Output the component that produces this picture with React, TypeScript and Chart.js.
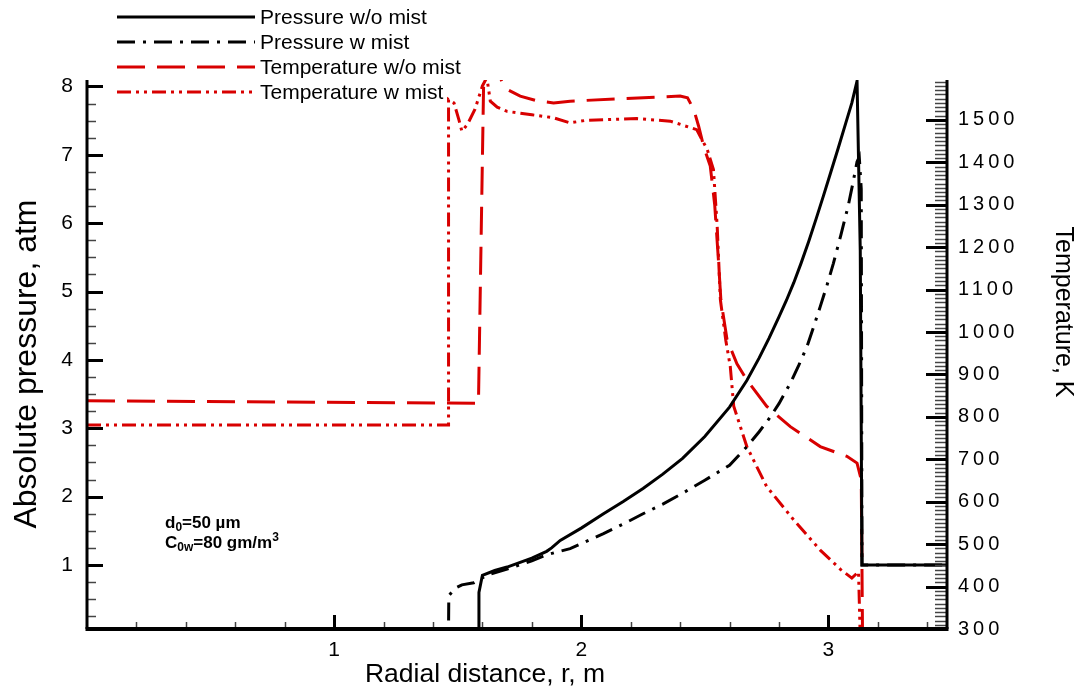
import React, { useEffect, useRef } from 'react';
import { Chart, registerables, LinearScale } from 'chart.js';

Chart.register(...registerables);

class SpacedLinearScale extends LinearScale {
  static id = 'spacedLinear';
  static defaults = (LinearScale as any).defaults;
  drawLabels(area: any) {
    const ctx: any = (this as any).ctx;
    ctx.save();
    ctx.letterSpacing = '4px';
    super.drawLabels(area);
    ctx.restore();
  }
}
Chart.register(SpacedLinearScale as any);

// ---------------- data ----------------
const seriesNames = ['Pressure w/o mist', 'Pressure w mist', 'Temperature w/o mist', 'Temperature w mist'];

const pNoMistR = [0, 1.583, 1.586, 1.6, 1.65, 1.7, 1.8, 1.86, 1.88, 1.915, 2.0, 2.09, 2.17, 2.25, 2.33, 2.41, 2.5, 2.6, 2.67, 2.72, 2.76, 2.8, 2.83, 2.86, 2.89, 2.92, 2.95, 2.98, 3.01, 3.04, 3.07, 3.095, 3.116, 3.129, 3.136, 3.48];
const pNoMistP = [0.064, 0.064, 0.6, 0.85, 0.92, 0.97, 1.1, 1.2, 1.25, 1.36, 1.54, 1.75, 1.93, 2.12, 2.33, 2.56, 2.88, 3.31, 3.7, 4.03, 4.32, 4.63, 4.87, 5.13, 5.42, 5.73, 6.06, 6.4, 6.75, 7.1, 7.46, 7.76, 8.08, 5.6, 1.0, 1.0];

const pMistR = [0, 1.463, 1.464, 1.49, 1.517, 1.565, 1.618, 1.7, 1.8, 1.86, 1.955, 2.09, 2.17, 2.25, 2.33, 2.41, 2.5, 2.6, 2.67, 2.72, 2.76, 2.8, 2.846, 2.88, 2.914, 2.94, 2.967, 2.995, 3.02, 3.05, 3.08, 3.1, 3.116, 3.125, 3.133, 3.136, 3.48];
const pMistP = [0.064, 0.064, 0.55, 0.66, 0.71, 0.74, 0.85, 0.94, 1.06, 1.15, 1.24, 1.46, 1.6, 1.75, 1.89, 2.05, 2.24, 2.46, 2.73, 2.95, 3.14, 3.36, 3.66, 3.92, 4.2, 4.48, 4.78, 5.1, 5.41, 5.82, 6.25, 6.6, 6.9, 6.97, 6.5, 1.0, 1.0];

const tNoMistR = [0, 1.57, 1.584, 1.605, 1.62, 1.65, 1.672, 1.685, 1.7, 1.753, 1.82, 1.888, 1.955, 2.158, 2.4, 2.43, 2.455, 2.475, 2.495, 2.522, 2.54, 2.555, 2.565, 2.59, 2.63, 2.67, 2.75, 2.846, 2.967, 3.075, 3.116, 3.133, 3.138, 3.48];
const tNoMistT = [838, 832, 832, 1588, 1610, 1625, 1600, 1582, 1572, 1556, 1545, 1540, 1544, 1550, 1556, 1552, 1525, 1485, 1438, 1391, 1300, 1170, 1076, 982, 925, 887, 825, 777, 730, 707, 691, 652, 300, 300];

const tMistR = [0, 1.463, 1.463, 1.485, 1.505, 1.517, 1.54, 1.57, 1.6, 1.618, 1.632, 1.66, 1.7, 1.8, 1.888, 1.955, 2.02, 2.225, 2.36, 2.467, 2.51, 2.535, 2.55, 2.563, 2.585, 2.603, 2.617, 2.67, 2.75, 2.86, 2.967, 3.05, 3.095, 3.122, 3.128, 3.48];
const tMistT = [781, 781, 1548, 1540, 1500, 1473, 1490, 1525, 1580, 1600, 1544, 1530, 1520, 1512, 1505, 1493, 1499, 1503, 1497, 1477, 1430, 1383, 1250, 1076, 980, 919, 825, 730, 636, 557, 486, 440, 420, 435, 300, 300];

const xTickValues = [1, 2, 3];
const yTickValues = [1, 2, 3, 4, 5, 6, 7, 8];
const y2TickValues = [300, 400, 500, 600, 700, 800, 900, 1000, 1100, 1200, 1300, 1400, 1500];

const FONT = '"Liberation Sans", Arial, sans-serif';

const pairs = (xs: number[], ys: number[]) => xs.map((x, i) => ({ x, y: ys[i] }));

const axesPlugin = {
  id: 'tecAxes',
  afterDatasetsDraw(chart: any) {
    const { ctx, chartArea: a, scales } = chart;
    ctx.save();
    ctx.lineCap = 'butt';
    // bottom ticks
    for (let i = 1; i <= 17; i++) {
      const v = i * 0.2;
      const px = Math.round(scales.x.getPixelForValue(v)) + 0.5;
      const major = i % 5 === 0;
      ctx.strokeStyle = major ? '#000' : '#444';
      ctx.lineWidth = major ? 3 : 1.5;
      ctx.beginPath();
      ctx.moveTo(px, a.bottom);
      ctx.lineTo(px, a.bottom - (major ? 14 : 7));
      ctx.stroke();
    }
    // left ticks
    for (let i = 1; i <= 32; i++) {
      const v = i * 0.25;
      const py = Math.round(scales.y.getPixelForValue(v)) + 0.5;
      const major = i % 4 === 0;
      ctx.strokeStyle = major ? '#000' : '#444';
      ctx.lineWidth = major ? 3 : 1.5;
      ctx.beginPath();
      ctx.moveTo(a.left, py);
      ctx.lineTo(a.left + (major ? 16 : 9), py);
      ctx.stroke();
    }
    // right ticks
    for (let v = 310; v <= 1590; v += 10) {
      const py = Math.round(scales.y2.getPixelForValue(v)) + 0.5;
      const major = v % 100 === 0;
      ctx.strokeStyle = major ? '#000' : '#444';
      ctx.lineWidth = major ? 3 : 1.5;
      ctx.beginPath();
      ctx.moveTo(a.right, py);
      ctx.lineTo(a.right - (major ? 21 : 12), py);
      ctx.stroke();
    }
    // axis lines
    ctx.strokeStyle = '#000';
    ctx.lineWidth = 3;
    ctx.beginPath();
    ctx.moveTo(a.left, a.top);
    ctx.lineTo(a.left, a.bottom);
    ctx.moveTo(a.right, a.top);
    ctx.lineTo(a.right, a.bottom);
    ctx.stroke();
    ctx.lineWidth = 4;
    ctx.beginPath();
    ctx.moveTo(a.left - 1.5, a.bottom);
    ctx.lineTo(a.right + 1.5, a.bottom);
    ctx.stroke();

    // axis titles
    ctx.fillStyle = '#000';
    ctx.textAlign = 'center';
    ctx.textBaseline = 'middle';
    ctx.font = `26.5px ${FONT}`;
    ctx.fillText('Radial distance, r, m', 485, 675);
    ctx.save();
    ctx.font = `32px ${FONT}`;
    ctx.translate(27, 364);
    ctx.rotate(-Math.PI / 2);
    ctx.fillText('Absolute pressure, atm', 0, 0);
    ctx.restore();
    ctx.save();
    ctx.font = `25px ${FONT}`;
    ctx.translate(1063, 312);
    ctx.rotate(Math.PI / 2);
    ctx.fillText('Temperature, K', 0, 0);
    ctx.restore();

    // annotation
    const bold = (s: number) => `bold ${s}px ${FONT}`;
    ctx.textAlign = 'left';
    ctx.textBaseline = 'alphabetic';
    let x = 165;
    let y = 528;
    ctx.font = bold(17);
    ctx.fillText('d', x, y); x += ctx.measureText('d').width;
    ctx.font = bold(12);
    ctx.fillText('0', x, y + 3); x += ctx.measureText('0').width;
    ctx.font = bold(17);
    ctx.fillText('=50 µm', x, y);
    x = 165; y = 548;
    ctx.fillText('C', x, y); x += ctx.measureText('C').width;
    ctx.font = bold(12);
    ctx.fillText('0w', x, y + 3); x += ctx.measureText('0w').width;
    ctx.font = bold(17);
    ctx.fillText('=80 gm/m', x, y); x += ctx.measureText('=80 gm/m').width;
    ctx.font = bold(12);
    ctx.fillText('3', x, y - 7);
    ctx.restore();
  },
  afterDraw(chart: any) {
    const { ctx } = chart;
    ctx.save();
    chart.data.datasets.forEach((ds: any, i: number) => {
      const y = 17 + 25 * i;
      ctx.strokeStyle = ds.borderColor;
      ctx.lineWidth = 3;
      ctx.setLineDash(ds.borderDash || []);
      ctx.beginPath();
      ctx.moveTo(117, y);
      ctx.lineTo(255, y);
      ctx.stroke();
      ctx.setLineDash([]);
      ctx.fillStyle = '#000';
      ctx.font = `21px ${FONT}`;
      ctx.textAlign = 'left';
      ctx.textBaseline = 'middle';
      ctx.fillText(ds.label, 260, y + 1);
    });
    ctx.restore();
  },
};

export default function App() {
  const ref = useRef<HTMLCanvasElement | null>(null);
  useEffect(() => {
    if (!ref.current) return;
    const tickFont = { family: FONT, size: 21 };
    const plain = (v: any) => String(v);
    const chart = new Chart(ref.current, {
      type: 'line',
      data: {
        datasets: [
          { label: seriesNames[0], data: pairs(pNoMistR, pNoMistP), yAxisID: 'y', borderColor: '#000000', borderWidth: 3, borderDash: [] },
          { label: seriesNames[1], data: pairs(pMistR, pMistP), yAxisID: 'y', borderColor: '#000000', borderWidth: 3, borderDash: [18, 8, 3, 8] },
          { label: seriesNames[2], data: pairs(tNoMistR, tNoMistT), yAxisID: 'y2', borderColor: '#d80000', borderWidth: 3, borderDash: [28, 12] },
          { label: seriesNames[3], data: pairs(tMistR, tMistT), yAxisID: 'y2', borderColor: '#d80000', borderWidth: 3, borderDash: [14, 5, 3, 5, 3, 5] },
        ] as any,
      },
      options: {
        responsive: false,
        animation: false,
        devicePixelRatio: 1,
        parsing: false as any,
        layout: { padding: { top: 80, left: 0, right: 0, bottom: 0 } },
        elements: { point: { radius: 0 }, line: { tension: 0, borderCapStyle: 'butt' } },
        plugins: { legend: { display: false }, tooltip: { enabled: false } },
        scales: {
          x: {
            type: 'linear', min: 0, max: 3.48,
            grid: { display: false, drawTicks: false }, border: { display: false },
            ticks: { font: tickFont, color: '#000', padding: 9, callback: plain },
            afterBuildTicks: (s: any) => { s.ticks = xTickValues.map((v) => ({ value: v })); },
            afterFit: (s: any) => { s.height = 63; },
          },
          y: {
            type: 'linear', position: 'left', min: 0.064, max: 8.095,
            grid: { display: false, drawTicks: false }, border: { display: false },
            ticks: { font: tickFont, color: '#000', padding: 14, callback: plain },
            afterBuildTicks: (s: any) => { s.ticks = yTickValues.map((v) => ({ value: v })); },
            afterFit: (s: any) => { s.width = 87; },
          },
          y2: {
            type: 'spacedLinear' as any, position: 'right', min: 300, max: 1594,
            grid: { display: false, drawTicks: false }, border: { display: false },
            ticks: { font: { family: FONT, size: 20 }, color: '#000', padding: 11, callback: plain },
            afterBuildTicks: (s: any) => { s.ticks = y2TickValues.map((v) => ({ value: v })); },
            afterFit: (s: any) => { s.width = 136; },
          },
        } as any,
      },
      plugins: [axesPlugin],
    });
    return () => chart.destroy();
  }, []);
  return (
    <canvas
      ref={ref}
      width={1083}
      height={692}
      style={{ position: 'absolute', left: 0, top: 0, width: 1083, height: 692, display: 'block' }}
    />
  );
}
